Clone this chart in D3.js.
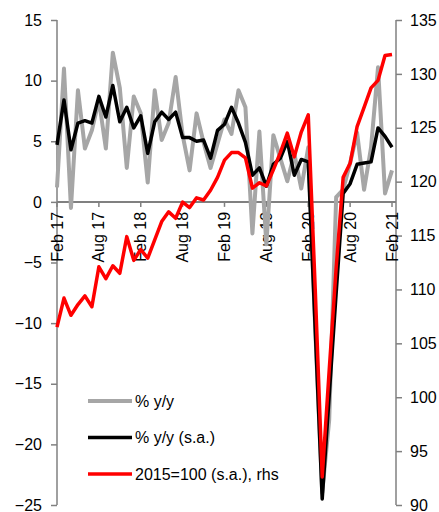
<!DOCTYPE html>
<html>
<head>
<meta charset="utf-8">
<script src="https://cdn.jsdelivr.net/npm/d3@7"></script>
<style>
    body { margin: 0; background: #fff; }
    svg text { font-family: "Liberation Sans", Arial, sans-serif; font-size: 16px; fill: #000; }
</style>
</head>
<body>
<svg id="chart" width="439" height="512"></svg>
<script>
// Monthly, Feb 17 .. Feb 21
var months = d3.range(49);
var xTickIdx = [0, 6, 12, 18, 24, 30, 36, 42, 48];
var xTickLabels = ["Feb 17", "Aug 17", "Feb 18", "Aug 18", "Feb 19", "Aug 19", "Feb 20", "Aug 20", "Feb 21"];
var leftTicks = [15, 10, 5, 0, -5, -10, -15, -20, -25];
var rightTicks = [135, 130, 125, 120, 115, 110, 105, 100, 95, 90];

var yoy = [1.2, 11.0, -0.5, 9.2, 4.4, 5.9, 8.4, 4.4, 12.3, 9.4, 2.8, 8.7,
    7.3, 1.6, 9.2, 5.1, 6.5, 10.3, 5.5, 2.6, 7.3, 4.9, 2.8, 4.8,
    6.8, 5.6, 9.2, 7.8, -2.6, 5.8, -3.5, 5.5, 3.6, 1.7, 4.0, 1.1,
    4.5, -10.5, -24.0, -18.0, 0.4, 1.0, 3.2, 5.7, 1.0, 4.5, 11.1, 0.7,
    2.6];
var yoySA = [4.7, 8.4, 4.3, 6.5, 6.7, 6.5, 8.7, 7.0, 9.6, 6.6, 7.8, 6.1,
    7.1, 4.0, 6.6, 7.4, 6.8, 7.4, 5.3, 5.3, 5.0, 5.1, 3.6, 5.9,
    6.4, 7.8, 6.5, 4.9, 2.2, 2.8, 1.3, 3.1, 3.6, 5.0, 2.2, 3.5,
    3.3, -10.5, -24.5, -16.0, -7.5, 0.7, 1.5, 3.1, 3.2, 3.3, 6.1, 5.4,
    4.5];
var index2015 = [106.5, 109.2, 107.6, 108.6, 109.4, 108.4, 112.1, 111.0, 112.2, 111.5, 114.9, 112.7,
    113.7, 112.9, 114.6, 116.3, 117.2, 116.6, 118.1, 117.6, 118.5, 118.3, 119.2, 120.4,
    122.0, 122.7, 122.7, 122.2, 119.4, 119.9, 119.6, 121.1, 122.7, 124.5, 122.3, 124.6,
    126.2, 110.0, 92.6, 102.5, 112.0, 120.4, 121.7, 125.1, 126.9, 128.7, 129.4, 131.7,
    131.8];

var svg = d3.select("#chart");
var plotLeft = 57, plotRight = 396, plotTop = 20, plotBottom = 505;

var x = d3.scaleLinear().domain([0, 48]).range([57, 392]);
var yL = d3.scaleLinear().domain([-25, 15]).range([plotBottom, plotTop]);
var yR = d3.scaleLinear().domain([90, 135]).range([plotBottom, plotTop]);

var axisColor = "#808080";

// left and right axes
var gl = svg.append("g").attr("transform", "translate(" + plotLeft + ",0)")
    .call(d3.axisLeft(yL).tickValues(leftTicks).tickSize(6).tickPadding(9).tickFormat(d3.format("d")));
var gr = svg.append("g").attr("transform", "translate(" + plotRight + ",0)")
    .call(d3.axisRight(yR).tickValues(rightTicks).tickSize(6).tickPadding(8).tickFormat(d3.format("d")));

[gl, gr].forEach(function(g) {
    g.select(".domain").attr("stroke", axisColor).attr("stroke-width", 1.5)
        .attr("d", "M0," + plotTop + "V" + plotBottom);
    g.selectAll(".tick line").attr("stroke", axisColor).attr("stroke-width", 1.5);
    g.selectAll(".tick text").attr("font-size", 16).attr("fill", "#000")
        .attr("font-family", "Liberation Sans, Arial, sans-serif");
});

// x axis at zero
var y0 = yL(0);
svg.append("line")
    .attr("x1", plotLeft).attr("x2", plotRight).attr("y1", y0).attr("y2", y0)
    .attr("stroke", axisColor).attr("stroke-width", 2);

svg.selectAll(".xtick").data(xTickIdx).enter().append("line")
    .attr("x1", function(d) { return x(d); }).attr("x2", function(d) { return x(d); })
    .attr("y1", y0).attr("y2", y0 + 5)
    .attr("stroke", axisColor).attr("stroke-width", 1.5);

svg.selectAll(".xlabel").data(xTickIdx).enter().append("text")
    .attr("transform", function(d) { return "translate(" + x(d) + "," + (y0 + 10) + ") rotate(-90)"; })
    .attr("text-anchor", "end")
    .attr("dy", "0.35em")
    .text(function(d, i) { return xTickLabels[i]; });

// series
var lineL = d3.line().x(function(d, i) { return x(i); }).y(function(d) { return yL(d); });
var lineR = d3.line().x(function(d, i) { return x(i); }).y(function(d) { return yR(d); });

svg.append("path").attr("d", lineL(yoy))
    .attr("fill", "none").attr("stroke", "#a6a6a6").attr("stroke-width", 4).attr("stroke-linejoin", "round");
svg.append("path").attr("d", lineL(yoySA))
    .attr("fill", "none").attr("stroke", "#000").attr("stroke-width", 3.5).attr("stroke-linejoin", "round");
svg.append("path").attr("d", lineR(index2015))
    .attr("fill", "none").attr("stroke", "#ff0000").attr("stroke-width", 3.5).attr("stroke-linejoin", "round");

// legend
var legend = [
    { label: "% y/y", color: "#a6a6a6", w: 4 },
    { label: "% y/y (s.a.)", color: "#000", w: 3.5 },
    { label: "2015=100 (s.a.), rhs", color: "#ff0000", w: 3.5 }
];
var lg = svg.selectAll(".leg").data(legend).enter().append("g")
    .attr("transform", function(d, i) { return "translate(88," + (401 + i * 36.5) + ")"; });
lg.append("line").attr("x1", 0).attr("x2", 44).attr("y1", 0).attr("y2", 0)
    .attr("stroke", function(d) { return d.color; }).attr("stroke-width", function(d) { return d.w; });
lg.append("text").attr("x", 47).attr("dy", "0.35em").text(function(d) { return d.label; });
</script>
</body>
</html>
